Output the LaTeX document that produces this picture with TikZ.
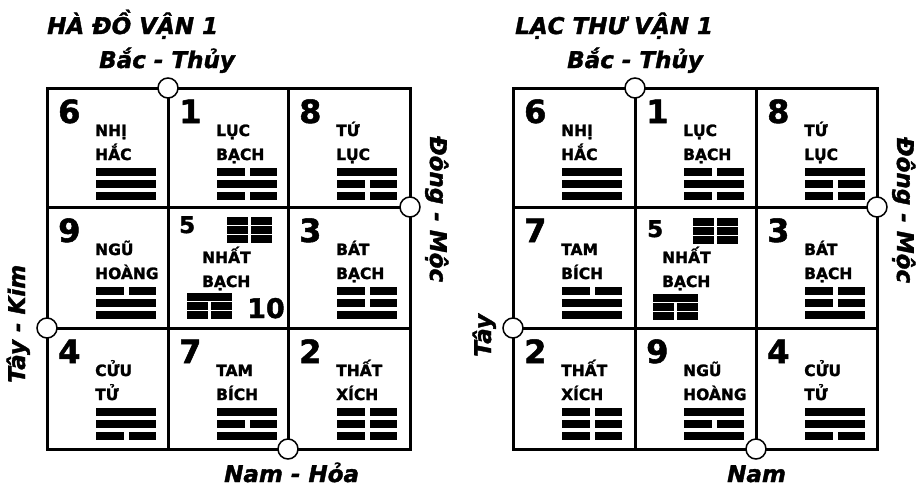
\documentclass[tikz,border=0pt]{standalone}
\usepackage{fontspec}
\setmainfont{DejaVu Sans}[BoldFeatures={FakeBold=1.6}, BoldItalicFeatures={FakeBold=1.6}]

% one line of a trigram: x, y (top), 1 = solid, 0 = broken
\newcommand\yao[3]{%
  \ifnum#3=1
    \fill (#1,#2) rectangle ++(60,-8);
  \else
    \fill (#1,#2) rectangle ++(27.5,-8);
    \fill (#1+32.5,#2) rectangle ++(27.5,-8);
  \fi}
\newcommand\gua[5]{\yao{#1}{#2}{#3}\yao{#1}{#2-12}{#4}\yao{#1}{#2-24}{#5}}
% cell: id, x, y (top left), number, two lines of name, three lines
\newcommand\cell[9]{%
  \node[starno] (#1-no) at (#2+11,-#3-35) {#4};
  \node[starname] (#1-a) at (#2+48,-#3-48) {#5};
  \node[starname] (#1-b) at (#2+48,-#3-72) {#6};
  \gua{#2+49}{-#3-80}{#7}{#8}{#9}}

\begin{document}
\begin{tikzpicture}[x=1pt, y=1pt,
    starno/.style={font=\bfseries\fontsize{32}{32}\selectfont, anchor=base west, inner sep=0pt},
    centno/.style={font=\bfseries\fontsize{23}{23}\selectfont, anchor=base west, inner sep=0pt},
    tenno/.style={font=\bfseries\fontsize{27}{27}\selectfont, anchor=base west, inner sep=0pt},
    starname/.style={font=\bfseries\fontsize{15.5}{15.5}\selectfont, anchor=base west, inner sep=0pt},
    lab/.style={font=\bfseries\itshape\fontsize{23}{23}\selectfont, anchor=base west, inner sep=0pt},
    port/.style={circle, draw, line width=1.5pt, fill=white, minimum size=20pt, inner sep=0pt},
    boxline/.style={line width=3pt}]
  \useasboundingbox (0,0) rectangle (922,-491);

  % Ha Do
  \draw[boxline] (47,-88) rectangle (410,-449);
  \draw[boxline] (168,-88) -- (168,-449) (288,-88) -- (288,-449)
                 (47,-207) -- (410,-207) (47,-328) -- (410,-328);
  \cell{l1}{47}{88}{6}{NHỊ}{HẮC}{1}{1}{1}
  \cell{l2}{168}{88}{1}{LỤC}{BẠCH}{0}{1}{0}
  \cell{l3}{288}{88}{8}{TỨ}{LỤC}{1}{0}{0}
  \cell{l4}{47}{207}{9}{NGŨ}{HOÀNG}{0}{1}{1}
  \cell{l6}{288}{207}{3}{BÁT}{BẠCH}{0}{0}{1}
  \cell{l7}{47}{328}{4}{CỬU}{TỬ}{1}{1}{0}
  \cell{l8}{168}{328}{7}{TAM}{BÍCH}{1}{0}{1}
  \cell{l9}{288}{328}{2}{THẤT}{XÍCH}{0}{0}{0}
  \node[centno] (l5-no) at (179,-233) {5};
  \foreach \r in {0,1,2} {
    \fill (227,-217-9*\r) rectangle ++(21,-8);
    \fill (251,-217-9*\r) rectangle ++(21,-8);
  }
  \node[starname] (l5-a) at (202,-263) {NHẤT};
  \node[starname] (l5-b) at (202,-287) {BẠCH};
  \fill (187,-293) rectangle ++(45,-8);
  \foreach \r in {1,2} {
    \fill (187,-293-9*\r) rectangle ++(21,-8);
    \fill (211,-293-9*\r) rectangle ++(21,-8);
  }
  \node[tenno] (l5-ten) at (247,-318) {10};
  \node[port] (l-north) at (168,-88) {};
  \node[port] (l-east) at (410,-207) {};
  \node[port] (l-west) at (47,-328) {};
  \node[port] (l-south) at (288,-449) {};
  \node[lab] (l-title) at (47,-34) {HÀ ĐỒ VẬN 1};
  \node[lab] (l-bac) at (99,-68) {Bắc - Thủy};
  \node[lab, rotate=-90] (l-dong) at (430,-136) {Đông - Mộc};
  \node[lab, rotate=90] (l-tay) at (25,-383) {Tây - Kim};
  \node[lab] (l-nam) at (224,-482) {Nam - Hỏa};

  % Lac Thu
  \draw[boxline] (513,-88) rectangle (877,-449);
  \draw[boxline] (635,-88) -- (635,-449) (756,-88) -- (756,-449)
                 (513,-207) -- (877,-207) (513,-328) -- (877,-328);
  \cell{r1}{513}{88}{6}{NHỊ}{HẮC}{1}{1}{1}
  \cell{r2}{635}{88}{1}{LỤC}{BẠCH}{0}{1}{0}
  \cell{r3}{756}{88}{8}{TỨ}{LỤC}{1}{0}{0}
  \cell{r4}{513}{207}{7}{TAM}{BÍCH}{0}{1}{1}
  \cell{r6}{756}{207}{3}{BÁT}{BẠCH}{0}{0}{1}
  \cell{r7}{513}{328}{2}{THẤT}{XÍCH}{0}{0}{0}
  \cell{r8}{635}{328}{9}{NGŨ}{HOÀNG}{1}{0}{1}
  \cell{r9}{756}{328}{4}{CỬU}{TỬ}{1}{1}{0}
  \node[centno] (r5-no) at (647,-237) {5};
  \foreach \r in {0,1,2} {
    \fill (693,-218-9*\r) rectangle ++(21,-8);
    \fill (717,-218-9*\r) rectangle ++(21,-8);
  }
  \node[starname] (r5-a) at (662,-263) {NHẤT};
  \node[starname] (r5-b) at (662,-287) {BẠCH};
  \fill (653,-294) rectangle ++(45,-8);
  \foreach \r in {1,2} {
    \fill (653,-294-9*\r) rectangle ++(21,-8);
    \fill (677,-294-9*\r) rectangle ++(21,-8);
  }
  \node[port] (r-north) at (635,-88) {};
  \node[port] (r-east) at (877,-207) {};
  \node[port] (r-west) at (513,-328) {};
  \node[port] (r-south) at (756,-449) {};
  \node[lab] (r-title) at (515,-34) {LẠC THƯ VẬN 1};
  \node[lab] (r-bac) at (567,-68) {Bắc - Thủy};
  \node[lab, rotate=-90] (r-dong) at (897,-137) {Đông - Mộc};
  \node[lab, rotate=90] (r-tay) at (491,-357) {Tây};
  \node[lab] (r-nam) at (727,-482) {Nam};
\end{tikzpicture}
\end{document}
